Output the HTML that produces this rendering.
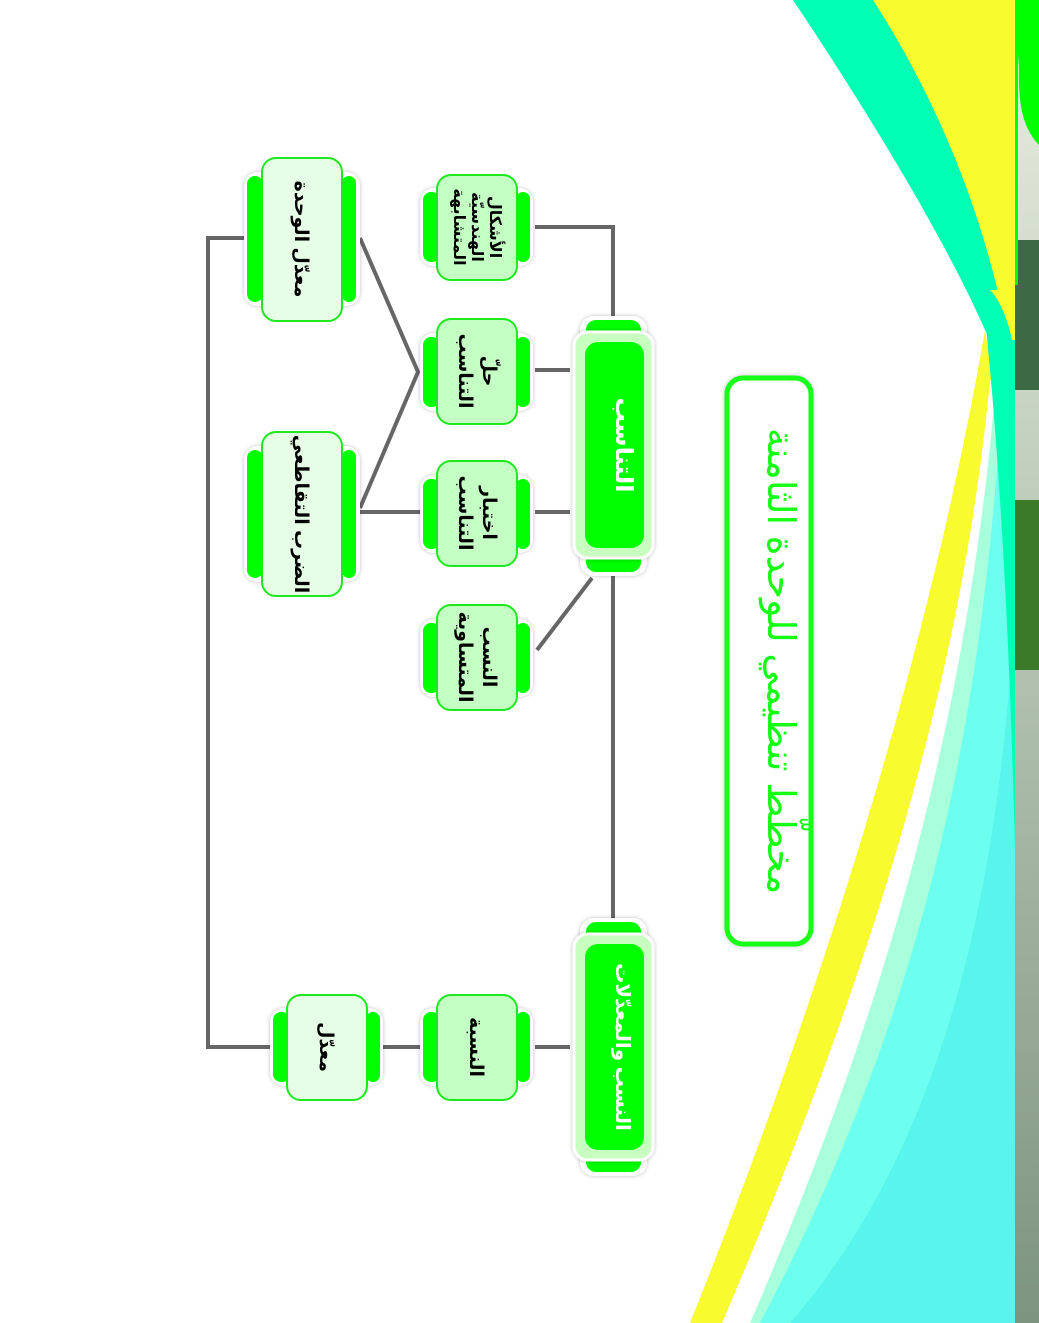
<!DOCTYPE html>
<html><head><meta charset="utf-8"><style>
html,body{margin:0;padding:0;background:#fff;}
svg{display:block;}
text{font-family:"Liberation Sans","Noto Sans CJK SC","DejaVu Sans",sans-serif;font-weight:bold;}
</style></head><body>
<svg width="1039" height="1323" viewBox="0 0 1039 1323" xmlns="http://www.w3.org/2000/svg">
<defs>
<filter id="sh" x="-20%" y="-20%" width="140%" height="140%"><feDropShadow dx="0" dy="0" stdDeviation="2" flood-color="#000" flood-opacity="0.25"/></filter>
<linearGradient id="ph" x1="0" y1="0" x2="0" y2="1"><stop offset="0" stop-color="#e8efe0"/><stop offset="1" stop-color="#7d9480"/></linearGradient>
</defs>
<path d="M793,0 C880,130 950,250 985,330 L1015,380 L1015,0 Z" fill="#00ffb4"/>
<path d="M873,0 C950,120 990,240 1008,340 L1015,340 L1015,0 Z" fill="#f8fc2e"/>
<path d="M985,330 C1000,420 1008,520 1015,560 L1015,1323 L690,1323 C820,1000 930,650 985,330 Z" fill="#f8fc2e"/>
<path d="M990,380 C960,700 860,1000 722,1323 L1015,1323 L1015,380 Z" fill="#fff"/>
<path d="M1000,330 C975,700 890,1000 750,1323 L1015,1323 L1015,330 Z" fill="#a8ffdc"/>
<path d="M1005,330 C990,700 930,1000 760,1323 L1015,1323 L1015,330 Z" fill="#6cfff0"/>
<path d="M1015,600 C1000,900 940,1150 790,1323 L1015,1323 Z" fill="#58f5ec"/>
<path d="M982,290 C1000,450 1010,650 1015,850 L1015,290 Z" fill="#00ffb4"/>
<path d="M990,290 C1000,300 1008,320 1012,340 L1015,340 L1015,290 Z" fill="#f8fc2e"/>
<rect x="1015" y="0" width="24" height="1323" fill="url(#ph)"/>
<rect x="1015" y="240" width="24" height="150" fill="#3d6a45"/>
<rect x="1015" y="500" width="24" height="170" fill="#3a7a28"/>
<path d="M1015,0 L1039,0 L1039,145 C1025,130 1018,110 1019,70 Z" fill="#00ff00"/>
<rect x="1015" y="0" width="3" height="285" fill="#00ff00"/>

<rect x="727" y="378" width="84" height="566" rx="16" fill="#fff" stroke="#14ff14" stroke-width="5" filter="url(#sh)"/>
<text transform="translate(768,661) rotate(90)" text-anchor="middle" font-size="38" fill="#14ff14" style="font-weight:normal" direction="rtl">مخطّط تنظيمي للوحدة الثامنة</text>

<g stroke="#666" stroke-width="4" fill="none">
<polyline points="535,227 613,227 613,318"/>
<line x1="613" y1="572" x2="613" y2="918"/>
<line x1="535" y1="370" x2="570" y2="370"/>
<line x1="535" y1="512" x2="570" y2="512"/>
<line x1="535" y1="1047" x2="570" y2="1047"/>
<line x1="537" y1="650" x2="592" y2="578"/>
<polyline points="360,238 418,372 360,508"/>
<line x1="360" y1="512" x2="420" y2="512"/>
<line x1="383" y1="1047" x2="420" y2="1047"/>
<polyline points="245,238 208,238 208,1047 270,1047"/>
</g>

<g>
<rect x="580" y="316" width="67" height="260" rx="14" fill="#fff" filter="url(#sh)"/>
<rect x="586" y="320" width="55" height="252" rx="10" fill="#00ff00"/>
<rect x="574" y="332" width="79" height="226" rx="14" fill="#c8ffc0" stroke="#fff" stroke-width="3" filter="url(#sh)"/>
<rect x="585" y="342" width="59" height="206" rx="13" fill="#00ff00"/>
<text transform="translate(616,445) rotate(90)" text-anchor="middle" font-size="24" fill="#fff" style="font-weight:bold" direction="rtl">التناسب</text>
</g>
<g>
<rect x="580" y="918" width="67" height="258" rx="14" fill="#fff" filter="url(#sh)"/>
<rect x="586" y="922" width="55" height="250" rx="10" fill="#00ff00"/>
<rect x="574" y="934" width="79" height="226" rx="14" fill="#c8ffc0" stroke="#fff" stroke-width="3" filter="url(#sh)"/>
<rect x="585" y="944" width="59" height="206" rx="13" fill="#00ff00"/>
<text transform="translate(616,1047) rotate(90)" text-anchor="middle" font-size="20" fill="#fff" style="font-weight:bold" direction="rtl">النسب والمعدّلات</text>
</g>

<g font-size="19" fill="#000">
<rect x="420" y="188" width="113" height="78" rx="14" fill="#fff" filter="url(#sh)"/>
<rect x="423" y="192" width="17" height="70" rx="8" fill="#00ff00"/><rect x="516" y="192" width="14" height="70" rx="7" fill="#00ff00"/>
<rect x="437" y="175" width="80" height="105" rx="14" fill="#c4ffc4" stroke="#1ee81e" stroke-width="2"/>
<text transform="translate(477,227) rotate(90)" text-anchor="middle" font-size="16" direction="rtl"><tspan x="0" y="-13">الأشكال</tspan><tspan x="0" y="5">الهندسيّة</tspan><tspan x="0" y="23">المتشابهة</tspan></text>

<rect x="420" y="333" width="113" height="78" rx="14" fill="#fff" filter="url(#sh)"/>
<rect x="423" y="337" width="17" height="70" rx="8" fill="#00ff00"/><rect x="516" y="337" width="14" height="70" rx="7" fill="#00ff00"/>
<rect x="437" y="319" width="80" height="105" rx="14" fill="#c4ffc4" stroke="#1ee81e" stroke-width="2"/>
<text transform="translate(477,371) rotate(90)" text-anchor="middle" direction="rtl"><tspan x="0" y="-6">حلّ</tspan><tspan x="0" y="18">التناسب</tspan></text>

<rect x="420" y="475" width="113" height="78" rx="14" fill="#fff" filter="url(#sh)"/>
<rect x="423" y="479" width="17" height="70" rx="8" fill="#00ff00"/><rect x="516" y="479" width="14" height="70" rx="7" fill="#00ff00"/>
<rect x="437" y="461" width="80" height="105" rx="14" fill="#c4ffc4" stroke="#1ee81e" stroke-width="2"/>
<text transform="translate(477,513) rotate(90)" text-anchor="middle" direction="rtl"><tspan x="0" y="-6">اختبار</tspan><tspan x="0" y="18">التناسب</tspan></text>

<rect x="420" y="619" width="113" height="78" rx="14" fill="#fff" filter="url(#sh)"/>
<rect x="423" y="623" width="17" height="70" rx="8" fill="#00ff00"/><rect x="516" y="623" width="14" height="70" rx="7" fill="#00ff00"/>
<rect x="437" y="605" width="80" height="105" rx="14" fill="#c4ffc4" stroke="#1ee81e" stroke-width="2"/>
<text transform="translate(477,657) rotate(90)" text-anchor="middle" direction="rtl"><tspan x="0" y="-6">النسب</tspan><tspan x="0" y="18">المتساوية</tspan></text>

<rect x="420" y="1008" width="113" height="78" rx="14" fill="#fff" filter="url(#sh)"/>
<rect x="423" y="1012" width="17" height="70" rx="8" fill="#00ff00"/><rect x="516" y="1012" width="14" height="70" rx="7" fill="#00ff00"/>
<rect x="437" y="995" width="80" height="105" rx="14" fill="#c4ffc4" stroke="#1ee81e" stroke-width="2"/>
<text transform="translate(477,1047) rotate(90)" text-anchor="middle" direction="rtl"><tspan x="0" y="7">النسبة</tspan></text>

<rect x="244" y="172" width="116" height="134" rx="14" fill="#fff" filter="url(#sh)"/>
<rect x="247" y="176" width="16" height="126" rx="8" fill="#00ff00"/><rect x="342" y="176" width="14" height="126" rx="7" fill="#00ff00"/>
<rect x="262" y="158" width="80" height="163" rx="14" fill="#e6fde6" stroke="#1ee81e" stroke-width="2"/>
<text transform="translate(302,239) rotate(90)" text-anchor="middle" direction="rtl"><tspan x="0" y="7">معدّل الوحدة</tspan></text>

<rect x="244" y="446" width="116" height="136" rx="14" fill="#fff" filter="url(#sh)"/>
<rect x="247" y="450" width="16" height="128" rx="8" fill="#00ff00"/><rect x="342" y="450" width="14" height="128" rx="7" fill="#00ff00"/>
<rect x="262" y="432" width="80" height="164" rx="14" fill="#e6fde6" stroke="#1ee81e" stroke-width="2"/>
<text transform="translate(302,514) rotate(90)" text-anchor="middle" direction="rtl"><tspan x="0" y="7">الضرب التقاطعي</tspan></text>

<rect x="270" y="1008" width="113" height="78" rx="14" fill="#fff" filter="url(#sh)"/>
<rect x="273" y="1012" width="17" height="70" rx="8" fill="#00ff00"/><rect x="366" y="1012" width="14" height="70" rx="7" fill="#00ff00"/>
<rect x="287" y="995" width="80" height="105" rx="14" fill="#e6fde6" stroke="#1ee81e" stroke-width="2"/>
<text transform="translate(327,1047) rotate(90)" text-anchor="middle" direction="rtl"><tspan x="0" y="7">معدّل</tspan></text>
</g>
</svg>
</body></html>
